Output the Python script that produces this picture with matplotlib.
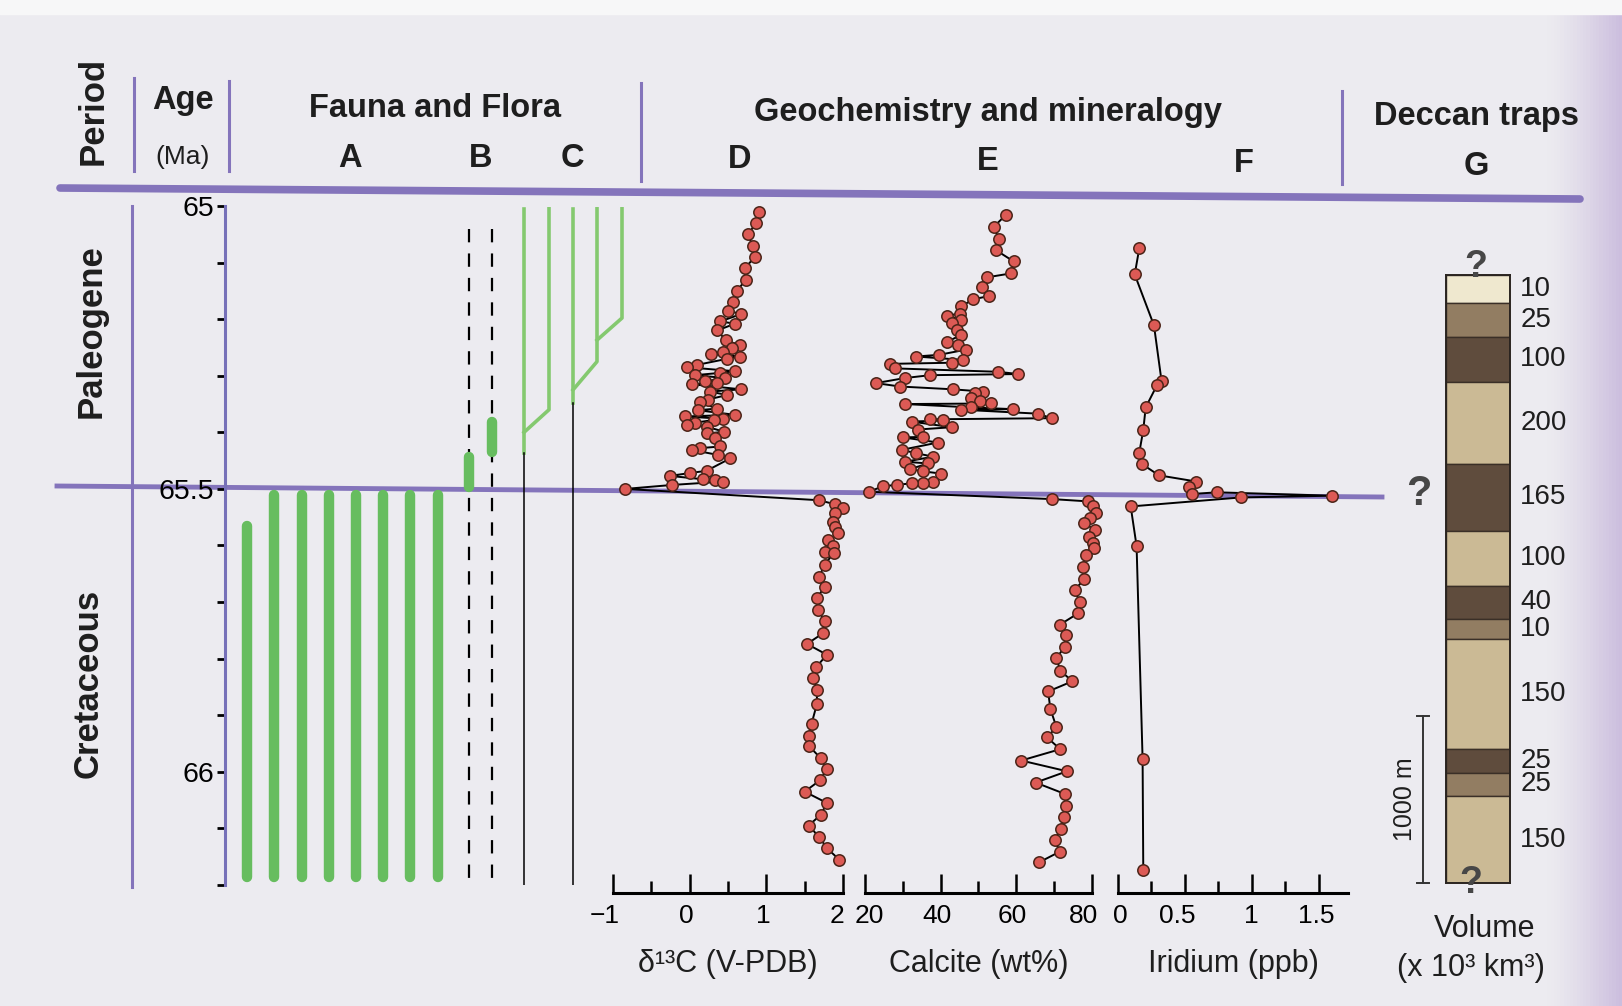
import numpy as np
import matplotlib
matplotlib.use("Agg")
import matplotlib.pyplot as plt
import matplotlib.transforms as mtransforms
from matplotlib.ticker import FixedLocator, FuncFormatter

plt.rcParams["font.family"] = ["Liberation Sans", "DejaVu Sans"]

# ---------------- data ----------------
# D: carbon isotopes, ordered top -> bottom
D_AGE = [65.010, 65.030, 65.050, 65.070, 65.090, 65.110, 65.130, 65.150, 65.170, 65.185,
         65.191, 65.204, 65.208, 65.220, 65.237, 65.246, 65.251, 65.258, 65.261, 65.266,
         65.270, 65.281, 65.285, 65.292, 65.295, 65.299, 65.304, 65.310, 65.313, 65.315,
         65.324, 65.328, 65.334, 65.342, 65.346, 65.358, 65.361, 65.369, 65.372, 65.376,
         65.378, 65.383, 65.387, 65.390, 65.399, 65.402, 65.410, 65.425, 65.428, 65.431,
         65.440, 65.446, 65.468, 65.472, 65.477, 65.483, 65.485, 65.487, 65.493, 65.500,
         65.520, 65.527, 65.534, 65.543, 65.558, 65.567, 65.578, 65.590, 65.600, 65.611,
         65.613, 65.634, 65.655, 65.673, 65.693, 65.714, 65.734, 65.755, 65.774, 65.793,
         65.815, 65.834, 65.855, 65.880, 65.915, 65.936, 65.955, 65.976, 65.995, 66.015,
         66.035, 66.055, 66.076, 66.095, 66.115, 66.135, 66.155]
D_C13 = [0.90, 0.87, 0.76, 0.82, 0.85, 0.72, 0.73, 0.62, 0.56, 0.50,
         0.67, 0.40, 0.59, 0.36, 0.47, 0.65, 0.55, 0.43, 0.28, 0.65,
         0.49, 0.09, -0.03, 0.59, 0.39, 0.07, 0.46, 0.20, 0.36, 0.03,
         0.67, 0.26, 0.49, 0.24, 0.13, 0.35, 0.11, 0.59, -0.06, 0.43,
         0.32, 0.07, -0.04, 0.22, 0.45, 0.23, 0.33, 0.40, 0.13, 0.03,
         0.37, 0.53, 0.22, 0.00, -0.26, 0.18, 0.33, 0.44, -0.23, -0.84,
         1.69, 1.89, 2.00, 1.89, 1.87, 1.89, 1.94, 1.81, 1.87, 1.76,
         1.88, 1.76, 1.69, 1.76, 1.66, 1.68, 1.76, 1.74, 1.53, 1.79,
         1.65, 1.61, 1.66, 1.66, 1.59, 1.56, 1.56, 1.71, 1.79, 1.70,
         1.50, 1.79, 1.71, 1.55, 1.69, 1.79, 1.95]

# E: calcite (wt%)
E_AGE = [65.016, 65.037, 65.058, 65.078, 65.098, 65.119, 65.126, 65.143, 65.159, 65.165,
         65.177, 65.190, 65.194, 65.201, 65.207, 65.219, 65.228, 65.240, 65.246, 65.254,
         65.263, 65.266, 65.272, 65.277, 65.279, 65.287, 65.293, 65.297, 65.299, 65.304,
         65.313, 65.319, 65.324, 65.328, 65.331, 65.340, 65.344, 65.349, 65.350, 65.356,
         65.359, 65.360, 65.367, 65.375, 65.377, 65.379, 65.381, 65.391, 65.395, 65.408,
         65.409, 65.418, 65.431, 65.437, 65.443, 65.452, 65.455, 65.465, 65.469, 65.473,
         65.487, 65.489, 65.490, 65.493, 65.495, 65.505,
         65.518, 65.522, 65.531, 65.543, 65.552, 65.561, 65.572, 65.585, 65.596, 65.605,
         65.617, 65.638, 65.660, 65.678, 65.699, 65.720, 65.740, 65.758, 65.779, 65.799,
         65.821, 65.840, 65.858, 65.889, 65.921, 65.939, 65.960, 65.980, 65.999, 66.019,
         66.039, 66.060, 66.080, 66.101, 66.120, 66.141, 66.160]
E_CALCITE = [57.2, 54.0, 55.4, 54.6, 59.3, 58.7, 52.3, 51.0, 52.8, 48.6,
             45.5, 45.1, 41.6, 45.5, 42.9, 44.2, 45.5, 41.6, 44.6, 46.6,
             39.6, 33.5, 45.9, 42.9, 26.6, 27.9, 55.2, 60.5, 37.2, 30.6,
             22.9, 29.2, 43.3, 51.2, 49.0, 48.1, 50.3, 53.2, 30.6, 48.1,
             59.0, 45.5, 65.7, 69.3, 37.2, 40.7, 32.3, 42.9, 34.1, 35.4,
             30.1, 39.3, 29.7, 33.6, 38.0, 30.6, 36.7, 31.9, 35.4, 40.2,
             38.0, 35.4, 32.3, 28.4, 24.8, 21.1,
             69.5, 78.9, 80.2, 81.1, 79.5, 78.0, 80.7, 79.2, 80.2, 80.4,
             78.3, 77.6, 78.0, 75.4, 76.7, 76.3, 71.5, 73.0, 72.8, 70.6,
             71.6, 74.8, 68.4, 69.0, 70.6, 68.1, 71.6, 61.3, 73.4, 65.1,
             72.8, 73.0, 72.5, 71.9, 70.1, 71.5, 66.0]

# F: iridium (ppb)
F_AGE = [65.075, 65.121, 65.211, 65.310, 65.316, 65.356, 65.396, 65.436, 65.456, 65.476,
         65.487, 65.496, 65.509, 65.506, 65.512, 65.515, 65.531, 65.601, 65.978, 66.174]
F_IRIDIUM = [0.159, 0.125, 0.269, 0.326, 0.293, 0.207, 0.189, 0.159, 0.179, 0.306,
             0.587, 0.533, 0.550, 0.741, 1.602, 0.923, 0.095, 0.139, 0.184, 0.189]

# A: range tops / bases (Ma)
A_TOP = [65.565, 65.51, 65.51, 65.51, 65.51, 65.51, 65.51, 65.51]
A_BASE = [66.185] * 8
# B: short green ranges on dashed lineages
B_RANGE = [(65.443, 65.496), (65.381, 65.434)]
B_DASH = (65.04, 66.2)
# C: lineage trunks (green top part, black lower part) and branch ages
C_TOP = 65.005
C_TRUNK_SPLIT = [65.437, 65.349]
C_BRANCHES = [(65.400, 65.360), (65.325, 65.275), (65.237, 65.198)]

# G: Deccan lava pile, top -> bottom
G_THICK = [170, 200, 270, 490, 400, 330, 200, 120, 660, 140, 140, 520]
G_VOLUME = ["10", "25", "100", "200", "165", "100", "40", "10", "150", "25", "25", "150"]
G_SHADE = ["pale", "mid", "dark", "light", "dark", "light", "dark", "mid", "light", "dark", "mid", "light"]

AGE_MAJOR = [65, 65.5, 66]
D_TICKS = [-1, 0, 1, 2]
E_TICKS = [20, 40, 60, 80]
F_TICKS = [0, 0.5, 1, 1.5]

# ---------------- layout / style ----------------
W, H = 1622, 1006
PURPLE = "#8474bb"
GREEN = "#67bd5f"
GREEN_C = "#84c96f"
RED = "#dc5a55"
RED_EDGE = "#4b2418"
INK = "#1e1e1e"
SHADES = {"pale": "#efe8cf", "mid": "#927d62", "dark": "#5f4c3d", "light": "#cbba95"}

A_X = [247, 274, 302, 329, 356, 383, 410, 438]
B_X = [469, 492]
C_TRUNK_X = [524, 573]
C_BRANCH_X = [(524, 549), (573, 597), (597, 622)]

fig = plt.figure(figsize=(W / 100, H / 100), dpi=100)


def px_axes(x0, x1, y0, y1, z=2):
    ax = fig.add_axes([x0 / W, 1 - y1 / H, (x1 - x0) / W, (y1 - y0) / H])
    ax.set_zorder(z)
    ax.patch.set_visible(False)
    return ax


def page_axes(z):
    ax = fig.add_axes([0, 0, 1, 1])
    ax.set_zorder(z)
    ax.set_xlim(0, W)
    ax.set_ylim(H, 0)
    ax.axis("off")
    ax.patch.set_visible(False)
    return ax


def fmt(v, _):
    return f"{v:g}".replace("-", "\u2212")


# background page
ax_bg = page_axes(0)
xs = np.linspace(0, 1, 500)
ramp = np.clip((xs - 0.955) / 0.045, 0, 1) ** 1.3
base = np.array([236, 235, 240]) / 255
edge = np.array([204, 190, 222]) / 255
img = base[None, :] * (1 - ramp[:, None]) + edge[None, :] * ramp[:, None]
ax_bg.imshow(np.repeat(img[None], 2, axis=0), extent=[0, W, H, 0], aspect="auto", zorder=0)
ax_bg.fill_between([0, W], 0, 14, color="#f7f7f8", zorder=0.5)

# purple frame lines
ax_bg.plot([60, 1580], [188, 199], color=PURPLE, lw=5.5, solid_capstyle="round", zorder=1)
ax_bg.plot([57, 1382], [486, 497], color=PURPLE, lw=3.5, zorder=1)
ax_bg.plot([132, 132], [206, 887], color=PURPLE, lw=2.2, zorder=1)
for x, y0, y1 in [(134, 78, 171), (229, 81, 171), (641, 83, 181), (1342, 91, 184)]:
    ax_bg.plot([x, x], [y0, y1], color=PURPLE, lw=2.2, zorder=1)

# header
HB = dict(fontsize=23.5, fontweight="bold", color=INK, ha="center", va="center")
ax_bg.text(93, 111, "Period", rotation=90, **{**HB, "fontsize": 25})
ax_bg.text(183, 100, "Age", **HB)
ax_bg.text(183, 157, "(Ma)", fontsize=19, color=INK, ha="center", va="center")
ax_bg.text(435, 108, "Fauna and Flora", **HB)
ax_bg.text(988, 112, "Geochemistry and mineralogy", **HB)
ax_bg.text(1476, 116, "Deccan traps", **HB)
for lab, x, y in [("A", 350, 158), ("B", 481, 158), ("C", 572, 158), ("D", 740, 159),
                  ("E", 988, 161), ("F", 1244, 163), ("G", 1476, 166)]:
    ax_bg.text(x, y, lab, **HB)
ax_bg.text(91, 331, "Paleogene", rotation=90, **{**HB, "fontsize": 25})
ax_bg.text(88, 683, "Cretaceous", rotation=90, **{**HB, "fontsize": 25})

# ---------------- fauna & flora + age axis ----------------
ax_f = px_axes(225, 640, 206, 885)
ax_f.set_xlim(225, 640)
ax_f.set_ylim(66.2, 65.0)
for s in ["top", "right", "bottom"]:
    ax_f.spines[s].set_visible(False)
ax_f.spines["left"].set_color("#7670b8")
ax_f.spines["left"].set_linewidth(2.2)
ax_f.set_xticks([])
ax_f.yaxis.set_major_locator(FixedLocator(AGE_MAJOR))
ax_f.yaxis.set_minor_locator(FixedLocator(np.arange(65.0, 66.21, 0.1)))
ax_f.yaxis.set_major_formatter(FuncFormatter(fmt))
ax_f.tick_params(axis="y", which="both", direction="out", color="black", width=2,
                 labelsize=20.5, pad=2, length=6)

for x, top, bot in zip(A_X, A_TOP, A_BASE):
    ax_f.plot([x, x], [top, bot], color=GREEN, lw=7.5, solid_capstyle="round")
for x, (top, bot) in zip(B_X, B_RANGE):
    ax_f.plot([x, x], [B_DASH[0], B_DASH[1]], color="black", lw=1.6, dashes=(6, 5))
    ax_f.plot([x, x], [top, bot], color=GREEN, lw=7.5, solid_capstyle="round")
for x, split in zip(C_TRUNK_X, C_TRUNK_SPLIT):
    ax_f.plot([x, x], [C_TOP, split], color=GREEN_C, lw=2.6)
    ax_f.plot([x, x], [split, 66.2], color="black", lw=1.1)
for (x0, x1), (a0, a1) in zip(C_BRANCH_X, C_BRANCHES):
    ax_f.plot([x0, x1, x1], [a0, a1, C_TOP], color=GREEN_C, lw=2.6)


# ---------------- geochemistry panels ----------------
def data_panel(x0, x1, xlim, major, minor, ages, vals, label):
    ax = px_axes(x0, x1, 206, 885, z=3)
    ax.set_xlim(*xlim)
    ax.set_ylim(66.2, 65.0)
    for s in ["top", "right", "left"]:
        ax.spines[s].set_visible(False)
    ax.spines["bottom"].set_position(("outward", 5.8))
    ax.spines["bottom"].set_linewidth(2.2)
    ax.set_yticks([])
    ax.xaxis.set_major_locator(FixedLocator(major))
    ax.xaxis.set_minor_locator(FixedLocator(minor))
    ax.xaxis.set_major_formatter(FuncFormatter(fmt))
    ax.tick_params(axis="x", which="major", direction="in", length=14, width=1.8,
                   labelsize=19, pad=8)
    ax.tick_params(axis="x", which="minor", direction="in", length=9, width=1.8)
    ax.plot(vals, ages, "-", color="black", lw=1.4, marker="o", ms=8.2, mfc=RED,
            mec=RED_EDGE, mew=1.1, clip_on=False, zorder=3)
    ax.set_xlabel(label, fontsize=22, labelpad=15, color=INK)
    return ax


def nudge_labels(ax, shifts_px):
    # the printed labels sit a few pixels off their ticks
    for lab, dx in zip(ax.xaxis.get_majorticklabels(), shifts_px):
        off = mtransforms.ScaledTranslation(dx / 100, 0, fig.dpi_scale_trans)
        lab.set_transform(lab.get_transform() + off)


ax_d = data_panel(613, 843, (-1, 2), D_TICKS, [-0.5, 0.5, 1.5], D_AGE, D_C13, "δ¹³C (V-PDB)")
ax_e = data_panel(865, 1092, (20, 80), E_TICKS, [30, 50, 70], E_AGE, E_CALCITE, "Calcite (wt%)")
ax_i = data_panel(1118, 1348, (0, 1.72), F_TICKS, [0.25, 0.75, 1.25], F_AGE, F_IRIDIUM, "Iridium (ppb)")
nudge_labels(ax_d, [-8, -3, -3, -6])
nudge_labels(ax_e, [4, -4, -4, -8])
nudge_labels(ax_i, [2, -8, 0, -2])

# ---------------- Deccan traps column ----------------
ax_g = px_axes(1446, 1510, 275, 883, z=3)
total = sum(G_THICK)
ax_g.set_xlim(-0.5, 0.5)
ax_g.set_ylim(0, total)
ax_g.set_xticks([])
ax_g.set_yticks([])
for s in ax_g.spines.values():
    s.set_linewidth(1.4)
    s.set_color("#2a2420")
bottoms = total - np.cumsum(G_THICK)
for th, b, shade, vol in zip(G_THICK, bottoms, G_SHADE, G_VOLUME):
    ax_g.bar(0, th, bottom=b, width=1, color=SHADES[shade], edgecolor="#3a2f27", lw=1.0)
    ax_g.text(0.66, b + th / 2, vol, fontsize=20, color=INK, ha="left", va="center",
              clip_on=False)
# 1000 m scale bar
ax_g.plot([-0.86, -0.86], [0, 1000], color="#333333", lw=1.4, clip_on=False)
ax_g.plot([-0.96, -0.76], [0, 0], color="#333333", lw=1.4, clip_on=False)
ax_g.plot([-0.96, -0.76], [1000, 1000], color="#333333", lw=1.4, clip_on=False)
ax_g.text(-1.14, 500, "1000 m", rotation=90, fontsize=18, color=INK, ha="center",
          va="center", clip_on=False)

# overlay: question marks and volume caption
ax_top = page_axes(10)
QM = dict(fontsize=27, fontweight="bold", color="#474747", ha="center", va="center")
ax_top.text(1476, 267, "?", **QM)
ax_top.text(1471, 883, "?", **QM)
ax_top.text(1419, 494, "?", **{**QM, "fontsize": 30})
ax_top.text(1485, 929, "Volume", fontsize=22, color=INK, ha="center", va="center")
ax_top.text(1471, 968, "(x 10³ km³)", fontsize=22, color=INK, ha="center", va="center")

fig.savefig("out.png", dpi=100)
